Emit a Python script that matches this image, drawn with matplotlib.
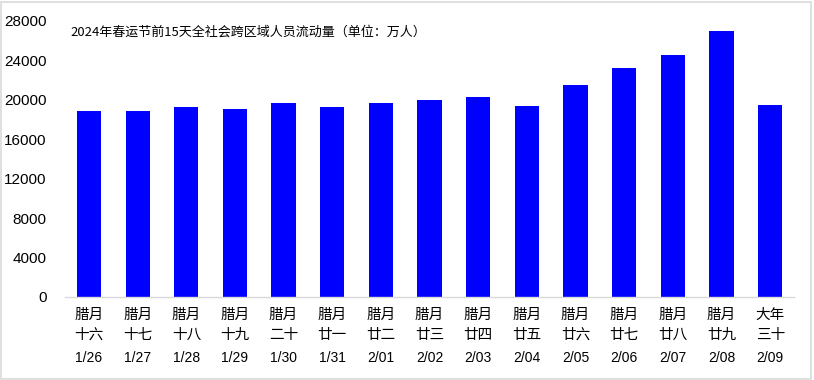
import matplotlib
matplotlib.use("Agg")
import matplotlib.pyplot as plt
from matplotlib.patches import Rectangle
from matplotlib.transforms import blended_transform_factory

lunar_month = ["腊月"] * 14 + ["大年"]
lunar_day = ["十六", "十七", "十八", "十九", "二十", "廿一", "廿二", "廿三",
             "廿四", "廿五", "廿六", "廿七", "廿八", "廿九", "三十"]
dates = ["1/26", "1/27", "1/28", "1/29", "1/30", "1/31", "2/01", "2/02",
         "2/03", "2/04", "2/05", "2/06", "2/07", "2/08", "2/09"]
values = [18900, 18900, 19270, 19070, 19680, 19270, 19680, 19980,
          20280, 19370, 21500, 23230, 24540, 26980, 19470]
yticks = [0, 4000, 8000, 12000, 16000, 20000, 24000, 28000]
title = "2024年春运节前15天全社会跨区域人员流动量（单位：万人）"

cjk = ["Noto Sans CJK SC", "DejaVu Sans"]
num = ["Liberation Sans Narrow", "Liberation Sans", "DejaVu Sans"]

fig = plt.figure(figsize=(8.14, 3.80), dpi=100)
ax = fig.add_axes([64.7 / 814, 1 - 297 / 380, (794.5 - 64.7) / 814, (297 - 21) / 380])

x = list(range(len(values)))
ax.bar(x, values, width=0.5, color="#0000FF", zorder=2)
ax.set_xlim(-0.5, len(values) - 0.5)
ax.set_ylim(0, 28000)
ax.set_yticks(yticks)
ax.set_yticklabels([str(v) for v in yticks], fontfamily=num, fontsize=11)
ax.tick_params(axis="y", length=0, pad=13)
ax.tick_params(axis="x", length=0)
ax.set_xticks(x)
ax.set_xticklabels([])

for s in ["top", "right", "left"]:
    ax.spines[s].set_visible(False)
ax.spines["bottom"].set_color("#D9D9D9")
ax.spines["bottom"].set_linewidth(1.0)

tr = blended_transform_factory(ax.transData, fig.transFigure)
for i in x:
    ax.text(i, 1 - 315 / 380, lunar_month[i], transform=tr, ha="center", va="center",
            fontfamily=cjk, fontsize=10.5, color="black")
    ax.text(i, 1 - 335 / 380, lunar_day[i], transform=tr, ha="center", va="center",
            fontfamily=cjk, fontsize=10.5, color="black")
    ax.text(i, 1 - 358 / 380, dates[i], transform=tr, ha="center", va="center",
            fontfamily=num, fontsize=10, color="black")

fig.text(248 / 814, 1 - 32 / 380, title, ha="center", va="center",
         fontfamily=cjk, fontsize=9.4, color="black")

fig.patches.append(Rectangle((0.5 / 814, 1.5 / 380), 1 - 4 / 814, 1 - 3.5 / 380,
                             transform=fig.transFigure, fill=False,
                             edgecolor="#D9D9D9", linewidth=1.2))

fig.savefig("out.png", dpi=100)
